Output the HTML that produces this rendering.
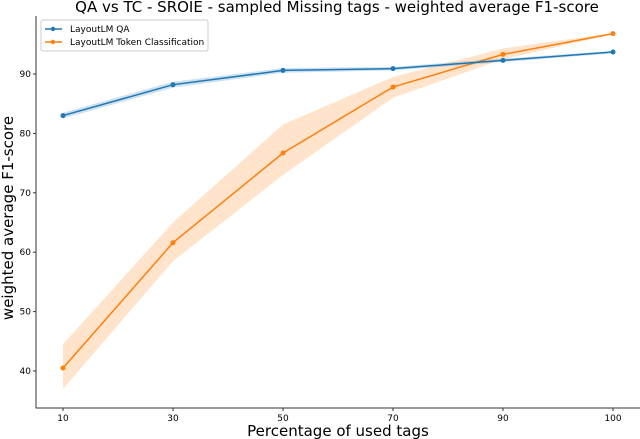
<!DOCTYPE html>
<html><head><meta charset="utf-8"><style>
body{margin:0;background:#fff;}
svg{display:block;font-family:"DejaVu Sans","Liberation Sans",sans-serif;}
</style></head><body>
<svg id="chart" width="640" height="439">
<text x="337" y="12" text-anchor="middle" font-size="15" fill="#000">QA vs TC - SROIE - sampled Missing tags - weighted average F1-score</text>
<g id="plot"></g>
<text x="338" y="436" text-anchor="middle" font-size="15">Percentage of used tags</text>
<text transform="translate(13,218) rotate(-90)" text-anchor="middle" font-size="15">weighted average F1-score</text>
<g>
<rect x="41" y="20" width="167" height="31" fill="#fff" stroke="#ccc" rx="2"/>
<line x1="45" y1="29" x2="62" y2="29" stroke="#1f77b4" stroke-width="1.5"/><circle cx="53" cy="29" r="2.2" fill="#1f77b4"/>
<text x="70" y="32" font-size="9">LayoutLM QA</text>
<line x1="45" y1="42" x2="62" y2="42" stroke="#ff7f0e" stroke-width="1.5"/><circle cx="53" cy="42" r="2.2" fill="#ff7f0e"/>
<text x="70" y="45" font-size="9">LayoutLM Token Classification</text>
</g>
</svg>
<script>
const categories=["10","30","50","70","90","100"];
const qaValues=[83.0,88.2,90.6,90.9,92.3,93.7];
const qaLow=[82.5,87.7,90.2,90.6,92.0,93.5];
const qaHigh=[83.5,88.7,91.0,91.2,92.6,93.9];
const tcValues=[40.5,61.6,76.7,87.8,93.3,96.8];
const tcLow=[37.0,58.5,73.0,86.0,92.5,96.7];
const tcHigh=[44.5,65.0,81.5,89.5,94.3,96.9];
const yTicks=[40,50,60,70,80,90];
const NS="http://www.w3.org/2000/svg";
const L=36,R=640,T=16,B=408;
const xs=i=>63+i*110;
const ys=v=>371-(v-40)*5.94;
const g=document.getElementById('plot');
function mk(t,a){const e=document.createElementNS(NS,t);for(const k in a)e.setAttribute(k,a[k]);g.appendChild(e);return e;}
let ax=mk('path',{d:`M${L},${T}V${B}H${R}`,fill:'none',stroke:'#333','stroke-width':1});


yTicks.forEach(v=>{const y=ys(v);
let t=mk('line',{x1:L-3,x2:L,y1:y,y2:y,stroke:'#333'});


let tx=mk('text',{x:L-5,y:y+3,'text-anchor':'end','font-size':9});tx.textContent=v;

});
categories.forEach((c,i)=>{const x=xs(i);
let t=mk('line',{x1:x,x2:x,y1:B,y2:B+3,stroke:'#333'});


let tx=mk('text',{x:x,y:B+13,'text-anchor':'middle','font-size':9});tx.textContent=c;

});
function series(vals,lo,hi,col,name){
const up=hi.map((v,i)=>`${xs(i)},${ys(v)}`);const dn=lo.map((v,i)=>`${xs(i)},${ys(v)}`).reverse();
let b=mk('polygon',{points:up.concat(dn).join(' '),fill:col,'fill-opacity':0.22});


let l=mk('polyline',{points:vals.map((v,i)=>`${xs(i)},${ys(v)}`).join(' '),fill:'none',stroke:col,'stroke-width':1.5});


vals.forEach((v,i)=>{let c=mk('circle',{cx:xs(i),cy:ys(v),r:2.5,fill:col});

});}
series(tcValues,tcLow,tcHigh,'#ff7f0e','tc');
series(qaValues,qaLow,qaHigh,'#1f77b4','qa');
</script>
</body></html>
